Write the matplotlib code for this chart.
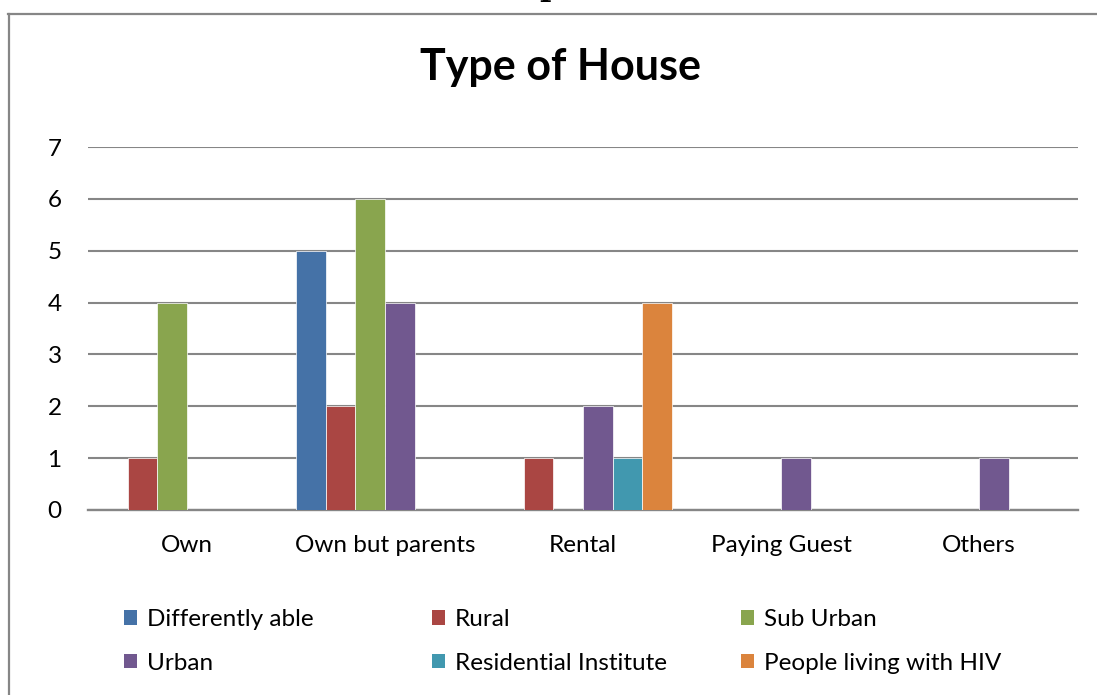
import matplotlib.pyplot as plt
import numpy as np
from matplotlib.lines import Line2D
from matplotlib.patches import Patch

plt.rcParams['font.family'] = ['Lato', 'DejaVu Sans']

categories = ['Own', 'Own but parents', 'Rental', 'Paying Guest', 'Others']
series_names = ['Differently able', 'Rural', 'Sub Urban', 'Urban',
                'Residential Institute', 'People living with HIV']
differently_able = [0, 5, 0, 0, 0]
rural = [1, 2, 1, 0, 0]
sub_urban = [4, 6, 0, 0, 0]
urban = [0, 4, 2, 1, 1]
residential = [0, 0, 1, 0, 0]
hiv = [0, 0, 4, 0, 0]
colors = ['#4572A7', '#AA4643', '#89A54E', '#71588F', '#4198AF', '#DB843D']

W, H = 1097, 695
fig = plt.figure(figsize=(W / 100, H / 100), dpi=100)
ax = fig.add_axes([88 / W, 1 - 510 / H, 990 / W, 363 / H])

data = [differently_able, rural, sub_urban, urban, residential, hiv]
x = np.arange(len(categories))
bw = 0.15
for i, (vals, c) in enumerate(zip(data, colors)):
    ax.bar(x + (i - 2.5) * bw, vals, bw, color=c, edgecolor='white',
           linewidth=0.5, zorder=3)

ax.set_xlim(-0.5, len(categories) - 0.5)
ax.set_ylim(0, 7)
ax.set_yticks(range(8))
ax.set_xticks(x)
ax.set_xticklabels(categories)
ax.yaxis.grid(True, color='#868686', linewidth=1.5)
ax.set_axisbelow(True)
for s in ['top', 'right', 'left']:
    ax.spines[s].set_visible(False)
ax.spines['bottom'].set_color('#868686')
ax.spines['bottom'].set_linewidth(1.7)
ax.tick_params(axis='both', length=0, labelsize=17.5)
ax.tick_params(axis='x', pad=18)
ax.tick_params(axis='y', pad=19)

fig.text(560 / W, 1 - 67 / H, 'Type of House', ha='center', va='center',
         fontsize=31, fontweight='bold')

# legend, laid out row-wise in three fixed columns
col_x = [124, 432, 741]
order = [(0, 3), (1, 4), (2, 5)]
for cx, (a, b) in zip(col_x, order):
    handles = [Patch(facecolor=colors[a]), Patch(facecolor=colors[b])]
    leg = fig.legend(handles, [series_names[a], series_names[b]],
                     loc='upper left', bbox_to_anchor=(cx / W, 1 - 609 / H),
                     frameon=False, fontsize=17.5, handlelength=0.55,
                     handleheight=0.55, handletextpad=0.4, labelspacing=0.93,
                     borderpad=0, borderaxespad=0)

# chart area border (top and left edges visible)
fig.add_artist(Line2D([8 / W, 1], [1 - 14 / H, 1 - 14 / H], color='#868686',
                      linewidth=1.6, transform=fig.transFigure))
fig.add_artist(Line2D([9 / W, 9 / W], [0, 1 - 14 / H], color='#868686',
                      linewidth=1.6, transform=fig.transFigure))

# cut-off heading above the chart
fig.text(550 / W, 1 + 14 / H, 'p', ha='center', va='center', fontsize=22,
         fontweight='bold', family='DejaVu Serif')

fig.savefig('out.png', dpi=100)
